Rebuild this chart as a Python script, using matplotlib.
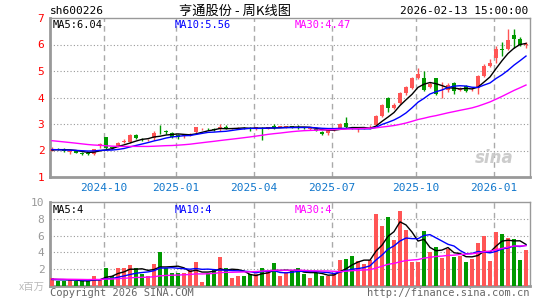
import numpy as np
import matplotlib
matplotlib.use("Agg")
import matplotlib.pyplot as plt

# weekly K-line data (price in yuan, volume in millions)
prior_close = [2.72, 2.70, 2.68, 2.65, 2.66, 2.62, 2.60, 2.58, 2.57, 2.55,
               2.52, 2.50, 2.48, 2.47, 2.45, 2.43, 2.42, 2.40, 2.38, 2.35,
               2.12, 2.08, 2.05, 2.02, 2.00, 1.98, 2.00, 2.02, 2.03]
opens = [2.0, 2.07, 2.07, 1.96, 1.97, 1.92, 1.89, 1.88, 2.2, 2.5,
         2.12, 2.16, 2.33, 2.33, 2.57, 2.44, 2.38, 2.46, 2.75, 2.75,
         2.66, 2.6, 2.56, 2.6, 2.69, 2.8, 2.82, 2.82, 2.8, 2.9,
         2.83, 2.83, 2.86, 2.85, 2.8, 2.85, 2.83, 2.93, 2.89, 2.88,
         2.92, 2.89, 2.87, 2.82, 2.81, 2.71, 2.66, 2.77, 2.82, 3.05,
         2.85, 2.76, 2.82, 2.84, 2.97, 3.3, 4.0, 3.59, 3.78, 4.18,
         4.37, 4.75, 4.72, 4.38, 4.72, 4.38, 4.28, 4.55, 4.3, 4.42,
         4.28, 4.35, 4.82, 5.2, 5.48, 5.82, 5.83, 6.35, 6.2, 5.98]
highs = [2.12, 2.1, 2.08, 2.0, 1.98, 1.93, 1.9, 2.07, 2.3, 2.52,
         2.14, 2.32, 2.42, 2.64, 2.63, 2.48, 2.44, 2.72, 2.98, 2.78,
         2.68, 2.64, 2.62, 2.66, 2.9, 2.84, 2.86, 2.85, 3.0, 2.98,
         2.86, 2.88, 2.9, 2.88, 2.9, 2.88, 2.9, 2.99, 2.93, 2.94,
         2.93, 2.97, 2.88, 2.86, 2.82, 2.72, 2.8, 2.84, 3.03, 3.27,
         2.88, 2.84, 2.88, 2.95, 3.35, 3.75, 4.02, 3.8, 4.2, 4.45,
         4.78, 5.13, 5.0, 4.6, 4.75, 4.6, 4.55, 4.6, 4.4, 4.48,
         4.36, 4.85, 5.25, 5.45, 5.95, 6.1, 6.57, 6.6, 6.28, 6.1]
lows = [1.98, 2.02, 1.93, 1.88, 1.89, 1.84, 1.83, 1.82, 2.1, 2.06,
        2.05, 2.14, 2.28, 2.3, 2.44, 2.36, 2.35, 2.4, 2.62, 2.62,
        2.48, 2.45, 2.48, 2.56, 2.66, 2.76, 2.76, 2.74, 2.72, 2.8,
        2.8, 2.8, 2.8, 2.72, 2.76, 2.38, 2.8, 2.82, 2.87, 2.86,
        2.86, 2.82, 2.82, 2.76, 2.72, 2.6, 2.58, 2.74, 2.8, 2.86,
        2.8, 2.7, 2.8, 2.8, 2.95, 3.28, 3.45, 3.55, 3.75, 4.1,
        4.33, 4.7, 4.25, 4.35, 4.1, 3.98, 4.2, 4.15, 4.25, 4.2,
        4.25, 4.15, 4.78, 5.15, 5.3, 5.55, 5.8, 5.85, 5.95, 5.85]
closes = [2.06, 2.05, 2.0, 1.98, 1.92, 1.88, 1.86, 2.05, 2.23, 2.1,
          2.1, 2.28, 2.35, 2.58, 2.47, 2.42, 2.41, 2.67, 2.72, 2.7,
          2.52, 2.52, 2.58, 2.64, 2.88, 2.81, 2.8, 2.77, 2.9, 2.83,
          2.84, 2.85, 2.84, 2.83, 2.87, 2.82, 2.88, 2.85, 2.9, 2.92,
          2.88, 2.88, 2.85, 2.85, 2.74, 2.63, 2.79, 2.82, 3.0, 2.9,
          2.82, 2.78, 2.84, 2.86, 3.3, 3.72, 3.59, 3.7, 4.18, 4.38,
          4.75, 4.9, 4.3, 4.5, 4.15, 4.4, 4.48, 4.25, 4.33, 4.26,
          4.3, 4.82, 5.2, 5.3, 5.82, 5.8, 6.18, 6.2, 6.0, 6.02]
prior_volume = [0.95, 0.9, 1.0, 0.85, 0.9, 0.95, 0.8, 0.85, 0.9, 0.8,
                0.85, 0.9, 0.8, 0.75, 0.85, 0.8, 0.9, 0.85, 0.8, 0.75,
                0.8, 0.7, 0.75, 0.8, 0.7, 0.75, 0.7, 0.8, 0.75]
volumes = [1.0, 0.6, 0.65, 0.7, 0.6, 0.55, 0.55, 1.15, 0.85, 2.1,
           1.15, 2.2, 2.1, 2.45, 2.1, 1.4, 1.25, 2.6, 4.0, 2.1,
           1.6, 1.5, 1.6, 1.85, 2.9, 0.45, 1.5, 2.0, 3.4, 2.1,
           1.0, 1.25, 1.15, 1.4, 1.4, 2.1, 1.75, 2.7, 1.25, 1.65,
           1.75, 2.2, 1.4, 1.0, 1.6, 1.25, 1.2, 1.5, 3.05, 3.2,
           3.55, 2.95, 2.65, 3.05, 8.55, 7.1, 8.2, 5.45, 8.9, 6.7,
           2.85, 2.85, 6.5, 4.05, 4.7, 3.3, 4.35, 3.4, 3.6, 2.8,
           3.2, 5.15, 5.95, 3.0, 6.4, 6.2, 5.7, 5.55, 3.05, 4.25]
month_labels = ["2024-10", "2025-01", "2025-04", "2025-07", "2025-10", "2026-01"]
month_start = [9, 21, 34, 47, 61, 74]
price_ticks = [1, 2, 3, 4, 5, 6, 7]
volume_ticks = [2, 4, 6, 8, 10]

RED = "#ff5555"
GREEN = "#009900"
GRAY = "#999999"
MONO = "DejaVu Sans Mono"


def moving_avg(values, prior, n):
    full = np.array(prior + values, dtype=float)
    out = np.convolve(full, np.ones(n) / n, mode="valid")
    return out[-len(values):]


W, H = 545, 300
fig = plt.figure(figsize=(W / 100, H / 100), dpi=100)


def px_rect(x0, y0, x1, y1):
    return [x0 / W, 1 - y1 / H, (x1 - x0) / W, (y1 - y0) / H]


ax = fig.add_axes(px_rect(50, 18, 530, 177))
axv = fig.add_axes(px_rect(50, 202, 530, 286))

n = len(closes)
x = np.arange(n)
up = np.array(closes) >= np.array(opens)
colors = [RED if u else GREEN for u in up]
xlim = (-1 / 3, n - 1 + 2 / 3)

# candles
ax.vlines(x, lows, highs, colors=colors, lw=1, zorder=3)
body_lo = np.minimum(opens, closes)
body_h = np.maximum(np.abs(np.array(closes) - np.array(opens)), 0.02)
ax.bar(x, body_h, bottom=body_lo, width=0.78, color=colors, zorder=4)

ma5 = moving_avg(closes, prior_close, 5)
ma10 = moving_avg(closes, prior_close, 10)
ma30 = moving_avg(closes, prior_close, 30)
ax.plot(x, ma5, color="black", lw=1, zorder=5)
ax.plot(x, ma10, color="blue", lw=1, zorder=5)
ax.plot(x, ma30, color="magenta", lw=1, zorder=5)

ax.set_xlim(*xlim)
ax.set_ylim(1, 7)
ax.set_yticks(price_ticks)
ax.set_yticklabels([str(t) for t in price_ticks], color="red", family=MONO, fontsize=8)
ax.set_xticks([])
for t in price_ticks[1:-1]:
    ax.axhline(t, color=GRAY, ls=(0, (1, 2)), lw=0.8, zorder=1)
for m, lab in zip(month_start, month_labels):
    ax.axvline(m - 1 / 3, color="#aaaaaa", ls=(0, (4, 3)), lw=1, zorder=1)
    ax.text(m - 1 / 3, 0.6, lab, ha="center", va="center",
            color="#1177cc", family=MONO, fontsize=8)

ax.text(0.006, 0.985, "MA5:%.2f" % ma5[-1], transform=ax.transAxes, ha="left", va="top",
        family=MONO, fontsize=7.5, color="black")
ax.text(0.26, 0.985, "MA10:%.2f" % ma10[-1], transform=ax.transAxes, ha="left", va="top",
        family=MONO, fontsize=7.5, color="blue")
ax.text(0.51, 0.985, "MA30:%.2f" % ma30[-1], transform=ax.transAxes, ha="left", va="top",
        family=MONO, fontsize=7.5, color="magenta")
ax.text(0.965, 0.12, "sina", transform=ax.transAxes, ha="right", va="center",
        fontsize=12, fontweight="bold", style="italic", color="#cccccc", zorder=2)

# volume
axv.bar(x, volumes, width=0.8, color=colors, zorder=3)
vma5 = moving_avg(volumes, prior_volume, 5)
vma10 = moving_avg(volumes, prior_volume, 10)
vma30 = moving_avg(volumes, prior_volume, 30)
axv.plot(x, vma5, color="black", lw=1, zorder=5)
axv.plot(x, vma10, color="blue", lw=1, zorder=5)
axv.plot(x, vma30, color="magenta", lw=1, zorder=5)
axv.set_xlim(*xlim)
axv.set_ylim(0, 10)
axv.set_yticks(volume_ticks)
axv.set_yticklabels([str(t) for t in volume_ticks], color=GRAY, family=MONO, fontsize=8)
axv.set_xticks([])
for t in volume_ticks[:-1]:
    axv.axhline(t, color=GRAY, ls=(0, (1, 2)), lw=0.8, zorder=1)
for m in month_start:
    axv.axvline(m - 1 / 3, color="#aaaaaa", ls=(0, (4, 3)), lw=1, zorder=1)
axv.text(0.006, 0.97, "MA5:%d" % int(vma5[-1]), transform=axv.transAxes, ha="left", va="top",
         family=MONO, fontsize=7.5, color="black")
axv.text(0.26, 0.97, "MA10:%d" % int(vma10[-1]), transform=axv.transAxes, ha="left", va="top",
         family=MONO, fontsize=7.5, color="blue")
axv.text(0.51, 0.97, "MA30:%d" % int(vma30[-1]), transform=axv.transAxes, ha="left", va="top",
         family=MONO, fontsize=7.5, color="magenta")

for a in (ax, axv):
    for s in a.spines.values():
        s.set_color(GRAY)
        s.set_linewidth(1)
    a.spines["left"].set_linewidth(2)
    a.spines["bottom"].set_linewidth(2)
    a.tick_params(axis="y", length=0, pad=4)

# header / footer texts
fig.text(50 / W, 1 - 11 / H, "sh600226", ha="left", va="center", family=MONO, fontsize=8)
fig.text(235 / W, 1 - 11 / H, "亨通股份 - 周K线图", ha="center", va="center",
         family=["Noto Sans CJK SC", "DejaVu Sans"], fontsize=9.5)
fig.text(528 / W, 1 - 11 / H, "2026-02-13 15:00:00", ha="right", va="center", family=MONO, fontsize=8)
fig.text(19 / W, 1 - 287 / H, "x百万", ha="left", va="center",
         family=["Noto Sans CJK SC", "DejaVu Sans"], fontsize=7.5, color="#bbbbbb")
fig.text(50 / W, 1 - 293 / H, "Copyright 2026 SINA.COM", ha="left", va="center",
         family=MONO, fontsize=7.5, color="#666666")
fig.text(529 / W, 1 - 293 / H, "http://finance.sina.com.cn", ha="right", va="center",
         family=MONO, fontsize=7.5, color="#666666")

fig.savefig("out.png", dpi=100)
